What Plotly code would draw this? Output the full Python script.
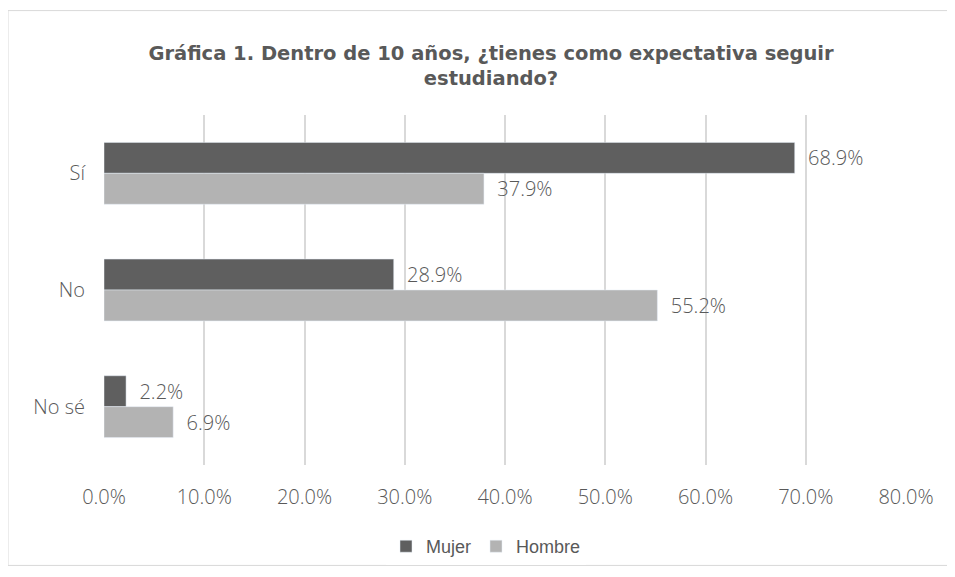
import plotly.graph_objects as go

categories = ["Sí", "No", "No sé"]
mujer = [0.689, 0.289, 0.022]
hombre = [0.379, 0.552, 0.069]
x_ticks = [0, 0.1, 0.2, 0.3, 0.4, 0.5, 0.6, 0.7, 0.8]

FONT = "Open Sans"
TFONT = "DejaVu Sans"
TXT = "#595959"
OFF = 8  # page body margin

fig = go.Figure()
for name, vals, col in [("Mujer", mujer, "#5f5f5f"), ("Hombre", hombre, "#b3b3b3")]:
    fig.add_trace(go.Bar(
        name=name, y=categories, x=vals, orientation="h",
        marker=dict(color=col),
        texttemplate="  %{x:.1%}", textposition="outside", cliponaxis=False,
        textfont=dict(family=FONT, size=20, color=TXT, weight=300),
    ))

W, H = 955 - OFF, 577 - OFF
L, T = 104 - OFF, 115 - OFF
R = W - (906 - OFF)
B = H - (467 - OFF)
pw, ph = W - L - R, H - T - B

fig.update_layout(
    width=W, height=H,
    margin=dict(l=L, r=R, t=T, b=B),
    paper_bgcolor="white", plot_bgcolor="white",
    barmode="group", bargap=0.47, bargroupgap=0,
    title=dict(
        text="<b>Gráfica 1. Dentro de 10 años, ¿tienes como expectativa seguir<br>estudiando?</b>",
        x=(491 - OFF) / W, xanchor="center", y=1 - (60 - OFF) / H, yanchor="middle",
        font=dict(family=TFONT, size=19.5, color=TXT),
    ),
    xaxis=dict(
        range=[0, 0.8], tickvals=x_ticks, tickformat=".1%",
        showgrid=True, gridcolor="#d9d9d9", gridwidth=1.5,
        zeroline=False, showline=False, ticks="",
        ticklabelstandoff=18,
        tickfont=dict(family=FONT, size=20, color=TXT, weight=300),
    ),
    yaxis=dict(
        autorange="reversed", showgrid=False, ticks="",
        showline=False, ticklabelstandoff=18,
        tickfont=dict(family=FONT, size=20, color=TXT, weight=300),
    ),
    legend=dict(
        orientation="h", x=(486 - OFF - L) / pw, xanchor="center",
        y=-(549 - 467) / ph, yanchor="middle",
        font=dict(family="Liberation Sans", size=18, color=TXT),
        itemwidth=30, tracegroupgap=0,
    ),
    showlegend=True,
    shapes=[dict(
        type="rect", xref="paper", yref="paper",
        x0=(8 - 104) / pw, x1=(948 - 104) / pw,
        y0=(467 - 568) / ph, y1=(467 - 10) / ph,
        line=dict(color="#d9d9d9", width=1), fillcolor="rgba(0,0,0,0)",
        layer="below",
    )],
)

fig.write_html("out.html")
